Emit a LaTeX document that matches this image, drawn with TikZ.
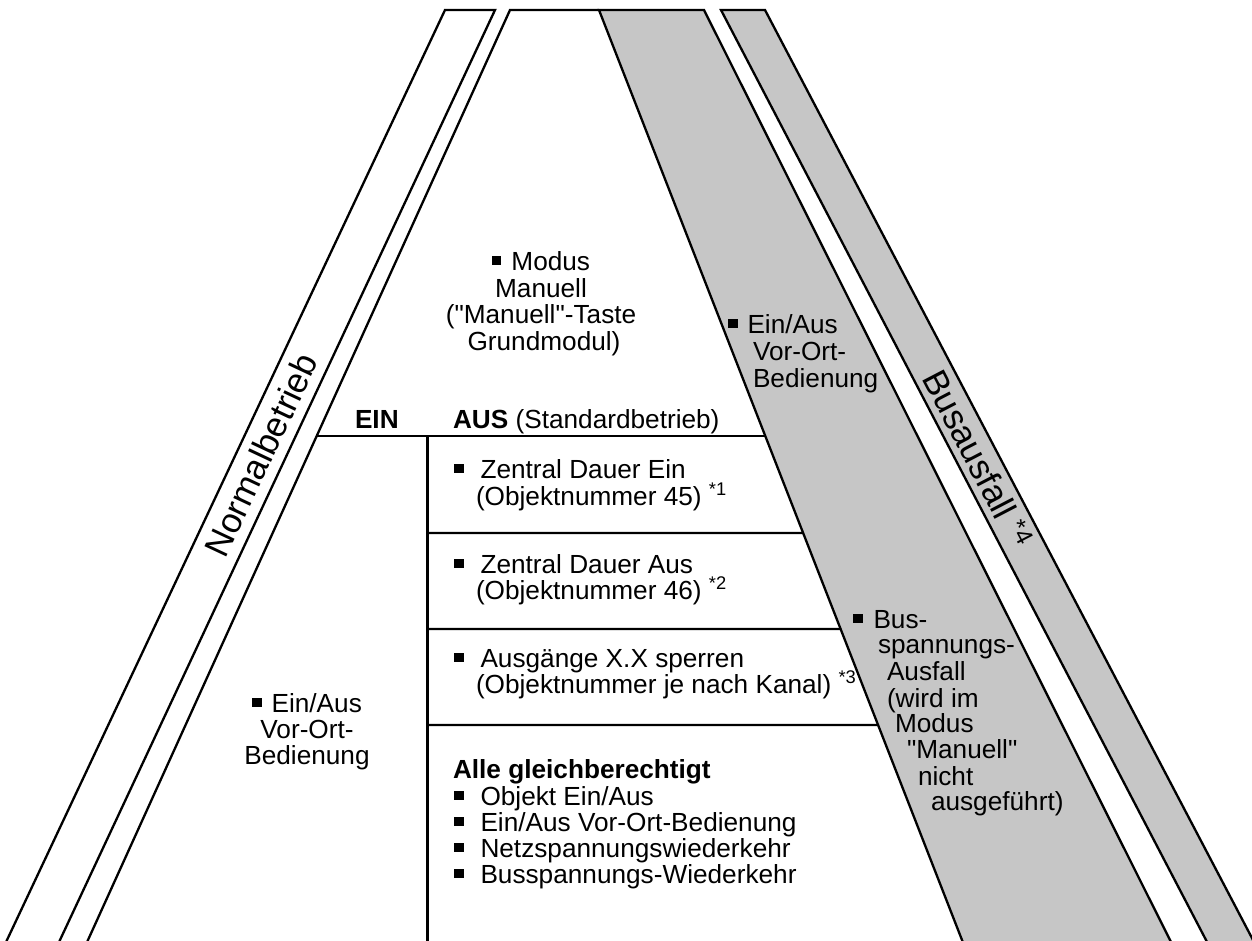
\documentclass[tikz,border=0pt]{standalone}
\usepackage{fontspec}
\setmainfont{Liberation Sans}[Ligatures=TeXOff]
\usetikzlibrary{calc}
\definecolor{bandgray}{RGB}{198,198,198}
\newcommand{\blt}{\rule[5pt]{9.5pt}{9pt}}
\newcommand{\dq}{\symbol{34}}
\begin{document}
\begin{tikzpicture}[x=1pt,y=-1pt,
  lw/.style={line width=2.3pt, line join=miter},
  lwv/.style={line width=3pt},
  txt/.style={inner sep=0pt, outer sep=0pt, font=\fontsize{26.2}{27}\selectfont},
  tl/.style={txt, anchor=base west},
  tc/.style={txt, anchor=base},
  big/.style={inner sep=0pt, outer sep=0pt, font=\fontsize{35}{40}\selectfont}]
\useasboundingbox (0,0) rectangle (1252,940);
\clip (0,0) rectangle (1252,940);
% band Normalbetrieb
\coordinate (nA) at (445,10); \coordinate (nB) at (495,10);
\coordinate (nC) at (60,940); \coordinate (nD) at (7,940);
% middle trapezoid
\coordinate (mTL) at (510,10); \coordinate (mBL) at (88,940);
% grey inner band
\coordinate (gTL) at (599,10); \coordinate (gTR) at (704,10);
\coordinate (gBR) at (1170,940); \coordinate (gBL) at (962,940);
% grey outer band Busausfall
\coordinate (bTL) at (721,10); \coordinate (bTR) at (765,10);
\coordinate (bBR) at (1253,940); \coordinate (bBL) at (1206,940);

\draw[lw] ($(nA)!1.03!(nD)$) -- (nA) -- (nB) -- ($(nB)!1.03!(nC)$);
\filldraw[lw, fill=bandgray] ($(gTL)!1.03!(gBL)$) -- (gTL) -- (gTR) -- ($(gTR)!1.03!(gBR)$);
\draw[lw] ($(mTL)!1.03!(mBL)$) -- (mTL) -- (gTL);
\filldraw[lw, fill=bandgray] ($(bTL)!1.03!(bBL)$) -- (bTL) -- (bTR) -- ($(bTR)!1.03!(bBR)$);

% horizontal dividers
\coordinate (hL0) at ($(mTL)!0.45806!(mBL)$);
\coordinate (hR0) at ($(gTL)!0.45806!(gBL)$);
\coordinate (vT) at (427,436); \coordinate (vB) at (427,945);
\coordinate (hL1) at (427,533); \coordinate (hR1) at ($(gTL)!0.56237!(gBL)$);
\coordinate (hL2) at (427,629); \coordinate (hR2) at ($(gTL)!0.66559!(gBL)$);
\coordinate (hL3) at (427,725); \coordinate (hR3) at ($(gTL)!0.76882!(gBL)$);
\draw[lw] (hL0) -- (hR0);
\draw[lwv] (vT) -- (vB);
\draw[lw] (hL1) -- (hR1);
\draw[lw] (hL2) -- (hR2);
\draw[lw] (hL3) -- (hR3);

% rotated band labels
\node[big, rotate=64.8] (nb) at (261,455) {Normalbetrieb};
\node[big, rotate=-62.5] (ba) at (970,444) {Busausfall\smash{\rlap{\ \textsuperscript{*4}}}};

% top middle
\node[tc] (m1) at (541,270) {\blt\hspace{10pt}Modus};
\node[tc] (m2) at (541,297) {Manuell};
\node[tc] (m3) at (541,323) {(\dq Manuell\dq-Taste};
\node[tc] (m4) at (544,350) {Grundmodul)};

% grey top block
\node[tl] (g1) at (728,333) {\blt\hspace{10pt}Ein/Aus};
\node[tl] (g2) at (753,360) {Vor-Ort-};
\node[tl] (g3) at (753,387) {Bedienung};

% EIN / AUS
\node[tl] (ein) at (355,428) {\textbf{EIN}};
\node[tl] (aus) at (453,428) {\textbf{AUS} (Standardbetrieb)};

% left block
\node[tc] (l1) at (307,712) {\blt\hspace{10pt}Ein/Aus};
\node[tc] (l2) at (307,738) {Vor-Ort-};
\node[tc] (l3) at (307,764) {Bedienung};

% boxes
\node[tl] (z1a) at (454,478) {\blt\hspace{17pt}Zentral Dauer Ein};
\node[tl] (z1b) at (476,505) {(Objektnummer 45) \textsuperscript{*1}};
\node[tl] (z2a) at (454,573) {\blt\hspace{17pt}Zentral Dauer Aus};
\node[tl] (z2b) at (476,599) {(Objektnummer 46) \textsuperscript{*2}};
\node[tl] (z3a) at (454,667) {\blt\hspace{17pt}Ausgänge X.X sperren};
\node[tl] (z3b) at (476,693) {(Objektnummer je nach Kanal) \textsuperscript{*3}};
\node[tl] (alle) at (453,778) {\textbf{Alle gleichberechtigt}};
\node[tl] (a1) at (454,805) {\blt\hspace{17pt}Objekt Ein/Aus};
\node[tl] (a2) at (454,831) {\blt\hspace{17pt}Ein/Aus Vor-Ort-Bedienung};
\node[tl] (a3) at (454,857) {\blt\hspace{17pt}Netzspannungswiederkehr};
\node[tl] (a4) at (454,883) {\blt\hspace{17pt}Busspannungs-Wiederkehr};

% Bus block
\node[tl] (b1) at (853,628) {\blt\hspace{11pt}Bus-};
\node[tl] (b2) at (878,653) {spannungs-};
\node[tl] (b3) at (887,680) {Ausfall};
\node[tl] (b4) at (887,707) {(wird im};
\node[tl] (b5) at (895,732) {Modus};
\node[tl] (b6) at (907,758) {\dq Manuell\dq};
\node[tl] (b7) at (918,785) {nicht};
\node[tl] (b8) at (931,810) {ausgeführt)};
\end{tikzpicture}
\end{document}
